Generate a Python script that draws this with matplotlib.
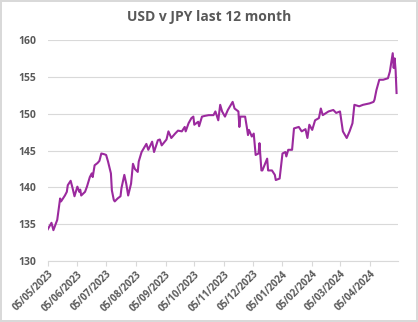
import matplotlib
matplotlib.use("Agg")
import matplotlib.pyplot as plt
import matplotlib.dates as mdates
import pandas as pd

dates = [
    "2023-05-05", "2023-05-09", "2023-05-11", "2023-05-15", "2023-05-18", "2023-05-19",
    "2023-05-23", "2023-05-25", "2023-05-26", "2023-05-29", "2023-05-31", "2023-06-02",
    "2023-06-05", "2023-06-07", "2023-06-08", "2023-06-09", "2023-06-13", "2023-06-15",
    "2023-06-18", "2023-06-20", "2023-06-21", "2023-06-23", "2023-06-26", "2023-06-28",
    "2023-06-30", "2023-07-03", "2023-07-05", "2023-07-07", "2023-07-10", "2023-07-11",
    "2023-07-13", "2023-07-14", "2023-07-17", "2023-07-20", "2023-07-21", "2023-07-24",
    "2023-07-26", "2023-07-28", "2023-07-31", "2023-08-02", "2023-08-04", "2023-08-07",
    "2023-08-08", "2023-08-11", "2023-08-16", "2023-08-18", "2023-08-22", "2023-08-24",
    "2023-08-28", "2023-08-30", "2023-09-01", "2023-09-06", "2023-09-08", "2023-09-11",
    "2023-09-15", "2023-09-18", "2023-09-22", "2023-09-25", "2023-09-26", "2023-09-29",
    "2023-10-02", "2023-10-04", "2023-10-05", "2023-10-09", "2023-10-10", "2023-10-13",
    "2023-10-16", "2023-10-20", "2023-10-25", "2023-10-27", "2023-10-30", "2023-11-01",
    "2023-11-03", "2023-11-06", "2023-11-09", "2023-11-13", "2023-11-14", "2023-11-16",
    "2023-11-20", "2023-11-21", "2023-11-22", "2023-11-27", "2023-11-29", "2023-11-30",
    "2023-12-01", "2023-12-04", "2023-12-06", "2023-12-08", "2023-12-11", "2023-12-12",
    "2023-12-14", "2023-12-15", "2023-12-20", "2023-12-21", "2023-12-25", "2023-12-28",
    "2023-12-29", "2024-01-02", "2024-01-05", "2024-01-08", "2024-01-09", "2024-01-11",
    "2024-01-15", "2024-01-17", "2024-01-22", "2024-01-25", "2024-01-29", "2024-01-31",
    "2024-02-02", "2024-02-05", "2024-02-08", "2024-02-12", "2024-02-14", "2024-02-16",
    "2024-02-22", "2024-02-27", "2024-03-01", "2024-03-05", "2024-03-08", "2024-03-12",
    "2024-03-15", "2024-03-18", "2024-03-20", "2024-03-25", "2024-03-29", "2024-04-05",
    "2024-04-09", "2024-04-10", "2024-04-12", "2024-04-15", "2024-04-19", "2024-04-24",
    "2024-04-26", "2024-04-29", "2024-04-30", "2024-05-01", "2024-05-02", "2024-05-03",
]
usd_jpy = [
    134.3, 135.2, 134.2, 135.6, 138.5, 138.1,
    138.9, 139.4, 140.3, 140.9, 139.9, 138.8,
    140.1, 139.4, 139.7, 138.9, 139.4, 140.1,
    141.4, 141.9, 141.4, 143.0, 143.3, 143.6,
    144.6, 144.5, 144.4, 143.5, 141.9, 139.6,
    138.3, 138.1, 138.5, 138.8, 139.9, 141.7,
    140.5, 138.9, 140.5, 143.2, 142.5, 142.1,
    143.5, 144.8, 145.9, 145.1, 146.2, 144.8,
    146.4, 146.5, 145.7, 146.5, 147.6, 146.7,
    147.3, 147.7, 147.6, 148.2, 147.6, 148.7,
    149.4, 149.6, 148.5, 148.9, 148.3, 149.6,
    149.7, 149.8, 149.8, 150.3, 149.1, 151.2,
    150.3, 149.6, 150.5, 151.4, 151.6, 150.7,
    150.3, 148.2, 149.6, 149.6, 148.0, 147.1,
    147.8, 146.9, 147.3, 144.4, 144.6, 146.0,
    142.3, 142.3, 143.9, 142.3, 142.3, 141.7,
    141.0, 141.2, 144.6, 144.8, 144.2, 145.1,
    145.1, 148.0, 148.2, 147.6, 147.9, 146.7,
    148.5, 147.8, 149.1, 149.4, 150.7, 149.8,
    150.3, 150.5, 150.1, 150.3, 147.6, 146.7,
    147.6, 148.7, 151.2, 151.0, 151.2, 151.4,
    151.6, 151.9, 153.2, 154.6, 154.6, 154.8,
    155.7, 158.2, 156.2, 157.5, 155.9, 152.8,
]
tick_dates = [
    "2023-05-05", "2023-06-05", "2023-07-05", "2023-08-05", "2023-09-05", "2023-10-05",
    "2023-11-05", "2023-12-05", "2024-01-05", "2024-02-05", "2024-03-05", "2024-04-05",
]
tick_labels = [
    "05/05/2023", "05/06/2023", "05/07/2023", "05/08/2023", "05/09/2023", "05/10/2023",
    "05/11/2023", "05/12/2023", "05/01/2024", "05/02/2024", "05/03/2024", "05/04/2024",
]
y_ticks = [130, 135, 140, 145, 150, 155, 160]
title = "USD v JPY last 12 month"

x = pd.to_datetime(dates)
ticks = pd.to_datetime(tick_dates)

plt.rcParams['font.family'] = ['Open Sans', 'DejaVu Sans']
gray = '#595959'

fig = plt.figure(figsize=(4.18, 3.22), dpi=100)
fig.patch.set_facecolor('white')
fig.patch.set_edgecolor('#D9D9D9')
fig.patch.set_linewidth(1.5)
ax = fig.add_axes([0.114, 0.189, 0.837, 0.687])

ax.plot(x, usd_jpy, color='#9B2A9E', linewidth=1.5, solid_joinstyle='round')

ax.set_ylim(130, 160)
ax.set_yticks(y_ticks)
ax.set_xlim(ticks[0], pd.Timestamp("2024-05-04"))
ax.set_xticks(ticks)
ax.set_xticklabels(tick_labels, rotation=45, ha='right', rotation_mode='anchor')

ax.grid(axis='y', color='#D9D9D9', linewidth=0.8)
ax.set_axisbelow(True)
for s in ['top', 'right', 'left']:
    ax.spines[s].set_visible(False)
ax.spines['bottom'].set_color('#D9D9D9')
ax.spines['bottom'].set_linewidth(0.8)

ax.tick_params(axis='y', length=0, pad=8, labelsize=7.5, labelcolor=gray)
ax.tick_params(axis='x', length=3.5, width=0.8, color='#D9D9D9', pad=2,
               labelsize=7, labelcolor=gray)
for lbl in ax.get_yticklabels() + ax.get_xticklabels():
    lbl.set_fontweight('bold')

fig.text(0.5, 0.947, title, ha='center', va='center', fontsize=10,
         fontweight='bold', color=gray)

fig.savefig('out.png', dpi=100)
